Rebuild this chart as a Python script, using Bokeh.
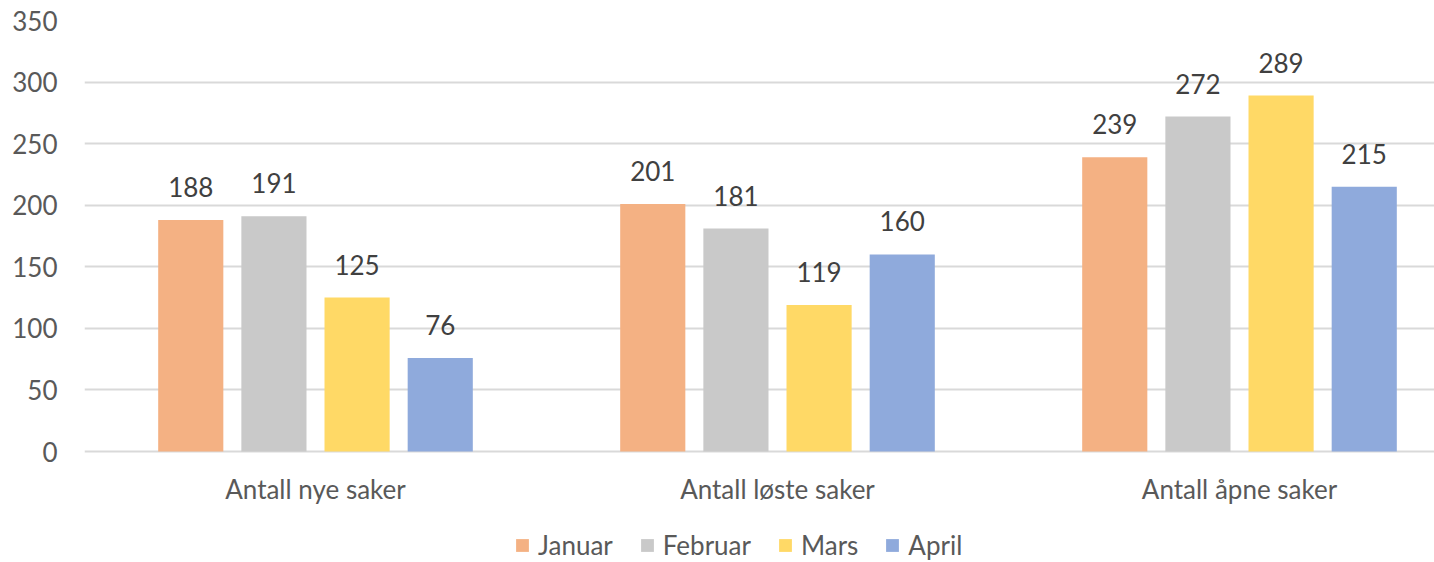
from bokeh.plotting import figure
from bokeh.models import ColumnDataSource, Range1d, FixedTicker, Legend, LegendItem
from bokeh.core.properties import value
from bokeh.embed import file_html
from bokeh.resources import INLINE

categories = ["Antall nye saker", "Antall løste saker", "Antall åpne saker"]
months = ["Januar", "Februar", "Mars", "April"]
januar = [188, 201, 239]
februar = [191, 181, 272]
mars = [125, 119, 289]
april = [76, 160, 215]
colors = ["#F4B183", "#C9C9C9", "#FFD966", "#8FAADC"]
y_ticks = [0, 50, 100, 150, 200, 250, 300, 350]

series = [januar, februar, mars, april]
offsets = [-0.27, -0.09, 0.09, 0.27]
FONT = "Lato"
FS = "26px"

W, H = 1434, 562
LEFT, TOP = 84, 20
PX_PER_UNIT = 431 / 350
FRAME_H = H - TOP
p = figure(width=W, height=H, output_backend="svg", toolbar_location=None,
           x_range=Range1d(0, (W - LEFT) / 462),
           y_range=Range1d(-(FRAME_H - 431) / PX_PER_UNIT, 350),
           min_border_left=LEFT, min_border_right=0, min_border_top=TOP, min_border_bottom=0)
p.outline_line_color = None
p.xgrid.grid_line_color = None
p.ygrid.grid_line_color = "#D9D9D9"
p.ygrid.grid_line_width = 2
p.ygrid.ticker = FixedTicker(ticks=y_ticks)
p.yaxis.ticker = FixedTicker(ticks=y_ticks)
p.xaxis.ticker = FixedTicker(ticks=[i + 0.5 for i in range(len(categories))])
p.xaxis.major_label_overrides = {i + 0.5: c for i, c in enumerate(categories)}
p.xaxis.fixed_location = 0

for ax in (p.xaxis[0], p.yaxis[0]):
    ax.axis_line_color = None
    ax.major_tick_line_color = None
    ax.minor_tick_line_color = None
    ax.major_label_text_font = FONT
    ax.major_label_text_font_size = FS
    ax.major_label_text_color = "#595959"
p.yaxis.major_label_standoff = 21
p.xaxis.major_label_standoff = 15

items = []
for name, vals, off, col in zip(months, series, offsets, colors):
    src = ColumnDataSource(dict(x=[i + 0.5 + off for i in range(len(categories))], top=vals,
                                lab=[str(v) for v in vals]))
    r = p.vbar(x="x", top="top", width=0.141, source=src, fill_color=col, line_color=None)
    p.text(x="x", y="top", text="lab", source=src, text_align="center", text_baseline="bottom",
           y_offset=-23, text_font=value(FONT), text_font_size=FS, text_color="#404040")
    items.append(LegendItem(label=name, renderers=[r]))

legend = Legend(items=items, orientation="horizontal", location=(430, 1),
                glyph_width=16, glyph_height=16, label_standoff=8, spacing=26,
                padding=0, margin=0, border_line_color=None, background_fill_alpha=0,
                label_text_font=FONT, label_text_font_size=FS, label_text_color="#595959")
p.add_layout(legend, "center")

open("out.html", "w").write(file_html(p, INLINE))
